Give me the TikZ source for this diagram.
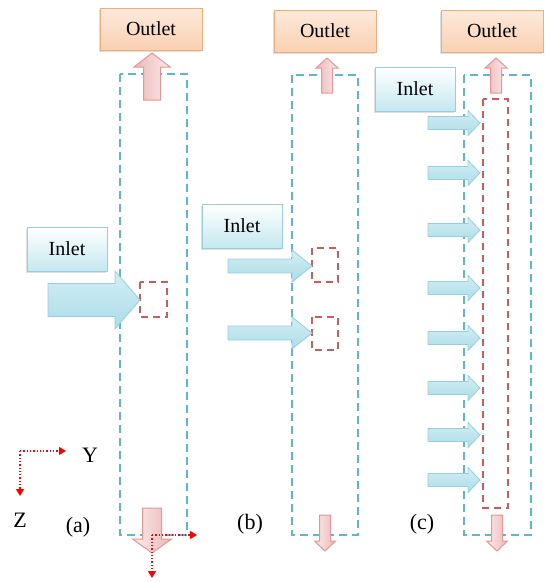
\documentclass[tikz,border=0pt]{standalone}
\usepackage{fontspec}
\setmainfont{Liberation Serif}
\usetikzlibrary{arrows.meta,shadows}

\definecolor{tubeblue}{RGB}{92,184,208}
\definecolor{zonered}{RGB}{204,92,92}
\definecolor{outletdraw}{RGB}{242,172,120}
\definecolor{outletfill}{RGB}{250,208,178}
\definecolor{inletdraw}{RGB}{150,208,222}
\definecolor{inletfill}{RGB}{196,232,240}
\definecolor{flowblue}{RGB}{170,220,232}
\definecolor{flowred}{RGB}{232,164,164}

\tikzset{
  namebox/.style={line width=1pt, inner sep=0pt, font=\fontsize{20}{23}\selectfont,
    drop shadow={opacity=0.25, shadow xshift=-1.5pt, shadow yshift=-2pt}},
  outletbox/.style={namebox, draw=outletdraw, top color=outletfill!45, bottom color=outletfill,
    minimum width=102pt, minimum height=42pt},
  inletbox/.style={namebox, draw=inletdraw, top color=white, bottom color=inletfill,
    minimum width=80pt, minimum height=44pt},
  % length / half shaft / half head / head length
  pics/flowarrow/.style args={#1/#2/#3/#4}{code={
    \path[pic actions] (0,-#2) -- ({#1-#4},-#2) -- ({#1-#4},-#3) -- (#1,0)
      -- ({#1-#4},#3) -- ({#1-#4},#2) -- (0,#2) -- cycle;}},
  inflow/.style={draw=inletdraw, line width=0.8pt, top color=flowblue!50, bottom color=flowblue},
  outflow/.style={draw=flowred!90!red, line width=1pt, left color=flowred!80, right color=flowred!20, rotate=90},
  downflow/.style={draw=flowred!90!red, line width=1pt, left color=flowred!20, right color=flowred!80, rotate=-90},
  tube/.style={draw=tubeblue, line width=1.7pt, dash pattern=on 8pt off 5pt},
  zone/.style={draw=zonered, line width=1.7pt, dash pattern=on 7pt off 5pt},
  axis/.style={red, line width=1.3pt, dotted, -{Triangle[length=7pt,width=8pt]}},
  caption/.style={font=\fontsize{22}{25}\selectfont}
}

\begin{document}
\begin{tikzpicture}[x=1pt,y=-1pt]
\useasboundingbox (0,0) rectangle (546,582);

% (a) one inlet
\draw[tube] (120,74) rectangle (187,535);
\draw[zone] (140,282) rectangle (167,317);
\pic[outflow] (a-up) at (152,100) {flowarrow=47/8.5/18/14};
\node[outletbox] (a-out) at (151,29) {Outlet};
\node[inletbox] (a-in) at (67,249) {Inlet};
\pic[inflow] (a-flow) at (48,300) {flowarrow=92/16.5/29/25};
\pic[downflow] (a-down) at (152,508) {flowarrow=45/9.5/19.5/14};
\node[caption] (a-lab) at (78,527) {(a)};

% axes
\coordinate (o1) at (20,451);
\draw[axis] (o1) -- (66,451);
\draw[axis] (o1) -- (20,496);
\node[caption] (y-lab) at (90,455) {Y};
\node[caption] (z-lab) at (20,520) {Z};
\coordinate (o2) at (152,535);
\draw[axis] (o2) -- (197,535);
\draw[axis] (o2) -- (152,578);

% (b) two inlets
\draw[tube] (292,75) rectangle (358,535);
\draw[zone] (312,248) rectangle (338,282);
\draw[zone] (312,317) rectangle (338,350);
\pic[outflow] (b-up) at (327,93) {flowarrow=35/5.5/11/10};
\node[outletbox] (b-out) at (325,31) {Outlet};
\node[inletbox] (b-in) at (242,226) {Inlet};
\foreach \y in {266,333}
  \pic[inflow] (b-flow-\y) at (228,\y) {flowarrow=84/7/16/20};
\pic[downflow] (b-down) at (325,515) {flowarrow=36/5.5/10.5/10};
\node[caption] (b-lab) at (250,524) {(b)};

% (c) distributed inlets
\draw[tube] (464,75) rectangle (531,535);
\draw[zone] (483,99) rectangle (508,508);
\pic[outflow] (c-up) at (496,93) {flowarrow=35/5.5/11/10};
\node[outletbox] (c-out) at (492,31) {Outlet};
\node[inletbox] (c-in) at (415,89) {Inlet};
\foreach \y in {123,173,230,288,338,388,435,480}
  \pic[inflow] (c-flow-\y) at (428,\y) {flowarrow=52/6.5/12.5/12};
\pic[downflow] (c-down) at (497,515) {flowarrow=36/5.5/10.5/10};
\node[caption] (c-lab) at (422,524) {(c)};

\end{tikzpicture}
\end{document}
